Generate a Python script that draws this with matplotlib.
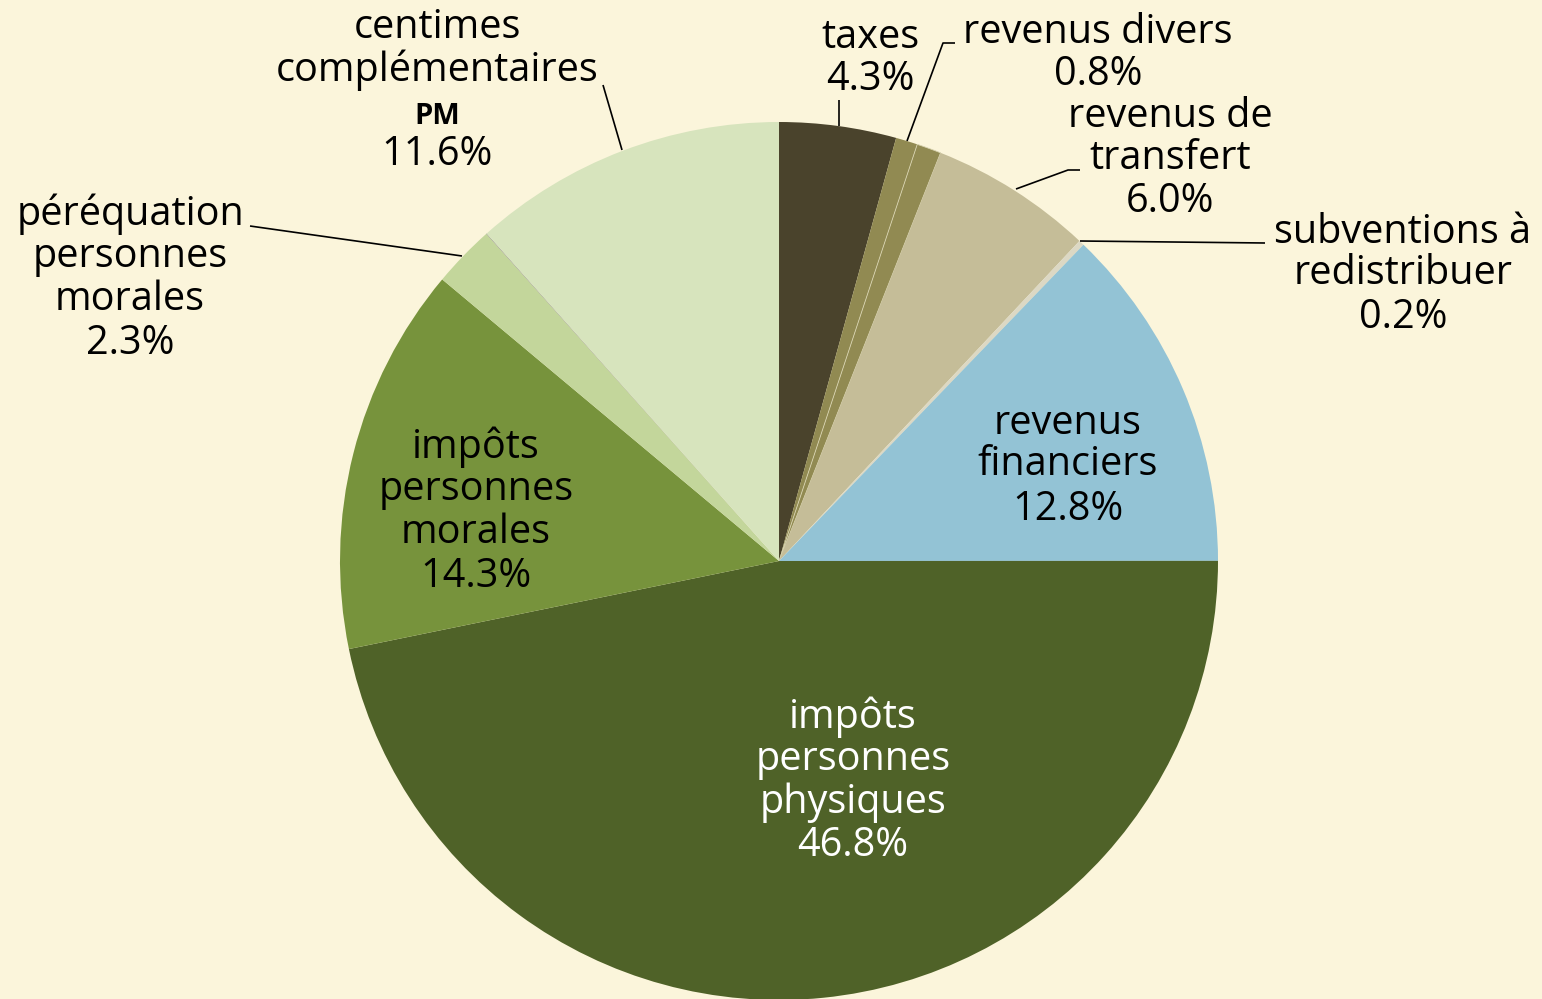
import matplotlib.pyplot as plt

# Répartition des revenus (%)
parts = ['taxes', 'revenus divers', 'autres', 'revenus de transfert',
         'subventions à redistribuer', 'revenus financiers',
         'impôts personnes physiques', 'impôts personnes morales',
         'péréquation personnes morales', 'divers PM',
         'centimes complémentaires PM']
valeurs = [4.3, 0.8, 0.9, 6.0, 0.2, 12.8, 46.8, 14.3, 2.3, 0.02, 11.6]
couleurs = ['#4a432c', '#918a52', '#918a52', '#c5bd98', '#dcd8c4', '#93c3d5',
            '#4f6228', '#77933c', '#c3d69b', '#8c8c8c', '#d7e4bd']

W, H = 1542, 999
BG = '#fbf5db'
plt.rcParams['font.family'] = ['Open Sans', 'DejaVu Sans']

fig = plt.figure(figsize=(W / 100, H / 100), dpi=100, facecolor=BG)
ax = fig.add_axes([0, 0, 1, 1])
ax.set_aspect('equal')
ax.set_facecolor(BG)

cx, cy, r = 779, H - 561, 439
wedges, _ = ax.pie(valeurs, colors=couleurs, startangle=90, counterclock=False,
                   center=(cx, cy), radius=r, frame=True,
                   wedgeprops=dict(linewidth=0))
ax.set_xlim(0, W)
ax.set_ylim(0, H)
ax.axis('off')
# fine pale separation between the two olive slices
wedges[2].set_edgecolor('#d8d3b0')
wedges[2].set_linewidth(0.6)


def txt(x, y, s, size=28.5, color='black', weight='normal'):
    ax.text(x, H - y, s, ha='center', va='center', fontsize=size,
            color=color, fontweight=weight)


def line(pts):
    xs = [p[0] for p in pts]
    ys = [H - p[1] for p in pts]
    ax.plot(xs, ys, color='black', lw=1.2, solid_capstyle='butt')


# labels (pixel positions)
txt(437, 28, 'centimes')
txt(437, 70, 'complémentaires')
txt(437, 116, 'PM', size=21, weight='bold')
txt(437, 155, '11.6%')
line([(603, 85), (622, 150)])

txt(870, 38, 'taxes')
txt(870, 80, '4.3%')
line([(839, 100), (839, 126)])

txt(1098, 33, 'revenus divers')
txt(1098, 75, '0.8%')
line([(955, 43), (943, 43), (907, 141)])

txt(1170, 117, 'revenus de')
txt(1170, 159, 'transfert')
txt(1170, 202, '6.0%')
line([(1080, 170), (1068, 170), (1016, 189)])

txt(1403, 233, 'subventions à')
txt(1403, 274, 'redistribuer')
txt(1403, 318, '0.2%')
line([(1080, 241), (1265, 243)])

txt(1068, 424, 'revenus')
txt(1068, 465, 'financiers')
txt(1068, 510, '12.8%')

txt(853, 717, 'impôts', color='white')
txt(853, 760, 'personnes', color='white')
txt(853, 803, 'physiques', color='white')
txt(853, 846, '46.8%', color='white')

txt(476, 447, 'impôts')
txt(476, 490, 'personnes')
txt(476, 533, 'morales')
txt(476, 577, '14.3%')

txt(130, 214, 'péréquation')
txt(130, 257, 'personnes')
txt(130, 300, 'morales')
txt(130, 344, '2.3%')
line([(250, 226), (462, 256)])

fig.savefig('out.png', dpi=100, facecolor=BG)
